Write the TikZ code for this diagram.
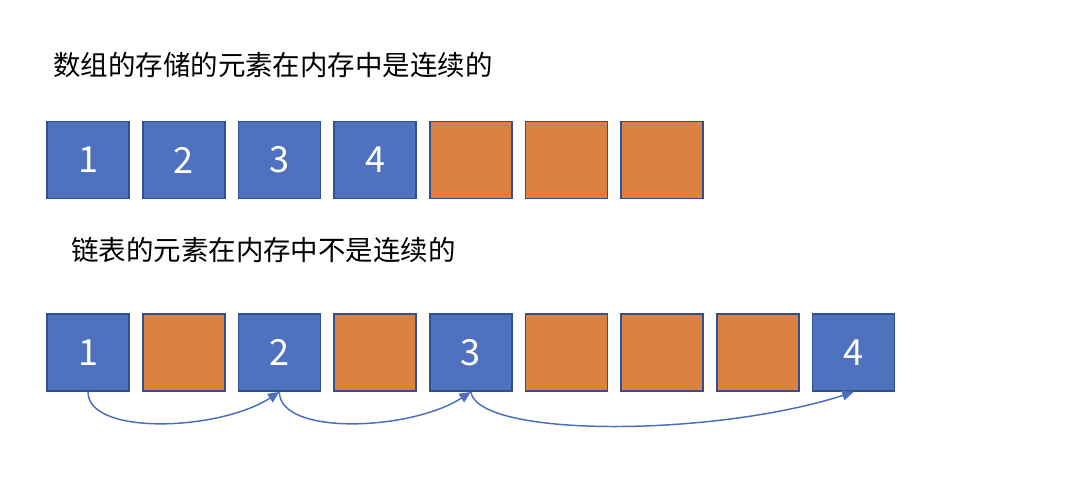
\documentclass[tikz,border=0pt]{standalone}
\usepackage{fontspec}
\newfontfamily\cjk{Noto Sans CJK SC}
\usetikzlibrary{arrows.meta}
\definecolor{boxblue}{HTML}{4F71BE}
\definecolor{boxorange}{HTML}{DD8044}
\definecolor{edgeblue}{HTML}{2F528F}
\definecolor{arrowblue}{HTML}{4A6EBD}
\tikzset{
  cell/.style={draw=edgeblue, line width=1.2pt, minimum width=61.5pt, minimum height=58pt, inner sep=0pt, font=\cjk\fontsize{27}{30}\selectfont, text=white},
  used/.style={cell, fill=boxblue},
  free/.style={cell, fill=boxorange},
  caption/.style={anchor=west, inner sep=0pt, font=\cjk\fontsize{20.6}{24}\selectfont},
  link/.style={draw=arrowblue, line width=1.1pt, -{Triangle[length=8.5pt,width=7.5pt]}}
}
\begin{document}
\begin{tikzpicture}[x=0.75pt,y=0.75pt]
\useasboundingbox (0,0) rectangle (1082,-496);
\node[caption] (t1) at (53,-65) {数组的存储的元素在内存中是连续的};
\node[caption] (t2) at (71,-250) {链表的元素在内存中不是连续的};
% array row
\node[used] (a1) at (88,-160) {1};
\node[used] (a2) at (183.7,-160) {2};
\node[used] (a3) at (279.4,-160) {3};
\node[used] (a4) at (375.1,-160) {4};
\node[free] (a5) at (470.8,-160) {};
\node[free] (a6) at (566.5,-160) {};
\node[free] (a7) at (662.2,-160) {};
% linked list row
\node[used] (b1) at (88,-352.5) {1};
\node[free] (b2) at (183.7,-352.5) {};
\node[used] (b3) at (279.4,-352.5) {2};
\node[free] (b4) at (375.1,-352.5) {};
\node[used] (b5) at (470.8,-352.5) {3};
\node[free] (b6) at (566.5,-352.5) {};
\node[free] (b7) at (662.2,-352.5) {};
\node[free] (b8) at (757.9,-352.5) {};
\node[used] (b9) at (853.6,-352.5) {4};
% links
\draw[link] (b1.south) .. controls +(0,-44) and +(-60,-39) .. (b3.south);
\draw[link] (b3.south) .. controls +(0,-44) and +(-60,-39) .. (b5.south);
\draw[link] (b5.south) .. controls +(8,-46) and +(-140,-45) .. (b9.south);
\end{tikzpicture}
\end{document}
